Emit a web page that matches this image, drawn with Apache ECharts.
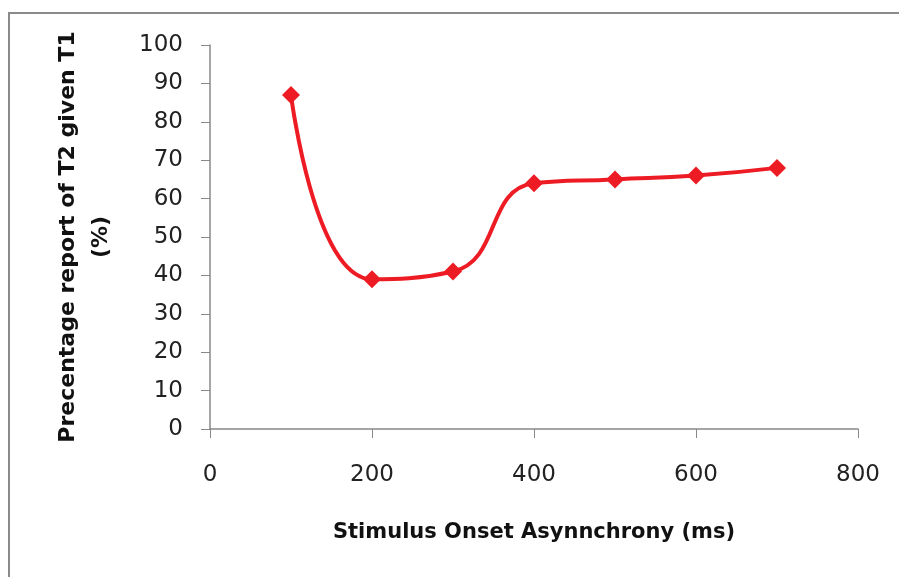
<!DOCTYPE html>
<html><head><meta charset="utf-8">
<script src="https://cdn.jsdelivr.net/npm/echarts@6/dist/echarts.min.js"></script>
<style>html,body{margin:0;padding:0;background:#fff}#c{width:899px;height:577px}</style>
</head><body><div id="c"></div>
<script>
const soa = [100, 200, 300, 400, 500, 600, 700];
const reportPct = [87, 39, 41, 64, 65, 66, 68];
const xTitle = 'Stimulus Onset Asynnchrony (ms)';
const yTitle = 'Precentage report of T2 given T1\n(%)';

const chart = echarts.init(document.getElementById('c'));
const font = '"DejaVu Sans", sans-serif';
chart.setOption({
  animation: false,
  graphic: [{
    type: 'rect', shape: {x: 9, y: 13, width: 1000, height: 1000},
    style: {fill: 'none', stroke: '#8a8a8a', lineWidth: 2}, z: -1
  }],
  grid: {left: 210, top: 45, width: 648, height: 384},
  xAxis: {
    type: 'value', min: 0, max: 800, interval: 200,
    name: xTitle, nameLocation: 'middle', nameGap: 93,
    nameTextStyle: {fontFamily: font, fontWeight: 'bold', fontSize: 21, color: '#111'},
    axisLine: {lineStyle: {color: '#888', width: 1.5}},
    axisTick: {show: true, length: 9, lineStyle: {color: '#888'}},
    axisLabel: {fontFamily: font, fontSize: 23, color: '#222', margin: 35},
    splitLine: {show: false}
  },
  yAxis: {
    type: 'value', min: 0, max: 100, interval: 10,
    name: yTitle, nameLocation: 'middle', nameGap: 92, nameRotate: 90,
    nameTextStyle: {fontFamily: font, fontWeight: 'bold', fontSize: 22, color: '#111', lineHeight: 33},
    axisLine: {show: true, lineStyle: {color: '#888', width: 1.5}},
    axisTick: {show: true, length: 9, lineStyle: {color: '#888'}},
    axisLabel: {fontFamily: font, fontSize: 23, color: '#222', margin: 27},
    splitLine: {show: false}
  },
  series: [{
    type: 'line',
    data: soa.map((x, i) => [x, reportPct[i]]),
    smooth: 0.5,
    symbol: 'diamond', symbolSize: 18,
    lineStyle: {color: '#ed1c24', width: 4},
    itemStyle: {color: '#ed1c24'}
  }]
});
</script></body></html>
